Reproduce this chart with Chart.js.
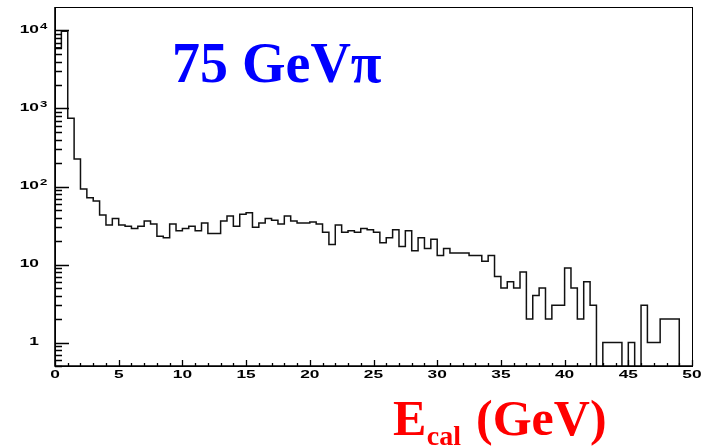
<!DOCTYPE html>
<html>
<head>
<meta charset="utf-8">
<script src="https://cdn.jsdelivr.net/npm/chart.js@4/dist/chart.umd.min.js"></script>
<style>
  html, body { margin: 0; padding: 0; background: #ffffff; }
  canvas { display: block; }
</style>
</head>
<body>
<canvas id="c" width="709" height="447"></canvas>
<script>
// Calorimeter energy spectrum, 100 bins of 0.5 GeV from 0 to 50 GeV
const binWidth = 0.5;
const counts = [
  6000, 9800, 750, 225, 93, 72, 65, 43, 32, 39,
  32, 31, 29, 31, 36, 33, 23, 22, 33, 27,
  29, 31, 27, 34, 25, 25, 36, 42, 31, 44,
  46, 30, 34, 39, 37, 33, 42, 36, 34, 34,
  35, 33, 26, 18, 32, 26, 27, 26, 29, 28,
  26, 19, 22, 28, 17, 27, 15, 22, 16, 21,
  13, 16, 14, 14, 14, 13, 13, 11, 13, 7,
  5, 6, 5, 8, 2, 4, 5, 2, 3, 3,
  9, 5, 2, 6, 3, 0, 1, 1, 1, 0,
  1, 0, 3, 1, 1, 2, 2, 2, 0, 0
];

// Axis labels
const xTickValues = [0, 5, 10, 15, 20, 25, 30, 35, 40, 45, 50];
const xTickLabels = ['0', '5', '10', '15', '20', '25', '30', '35', '40', '45', '50'];
const yTickValues = [1, 10, 100, 1000, 10000];
const yTickBases = ['1', '10', '10', '10', '10'];
const yTickExponents = ['', '', '2', '3', '4'];
const titleText = '75 GeV\u03C0';
const xTitleMain = 'E';
const xTitleSub = 'cal';
const xTitleRest = '(GeV)';

// Log axis range; empty bins are drawn down to below the frame floor and clipped there
const yMin = 0.5;
const yMax = 20000;
const emptyBinLevel = 0.1;

// Histogram outline: start on the axis, one point per bin low edge, close on the axis
const level = v => (v > 0 ? v : emptyBinLevel);
const points = [{ x: 0, y: emptyBinLevel }];
counts.forEach((v, i) => points.push({ x: i * binWidth, y: level(v) }));
points.push({ x: counts.length * binWidth, y: emptyBinLevel });

function stretchedText(ctx, text, x, y, sx, align) {
  ctx.save();
  ctx.translate(x, y);
  ctx.scale(sx, 1);
  ctx.textAlign = align;
  ctx.fillText(text, 0, 0);
  ctx.restore();
}

const labelFont = size => 'bold ' + size + 'px "Liberation Sans", Arial, sans-serif';
const serifFont = size => 'bold ' + size + 'px "Liberation Serif", "Times New Roman", serif';

const frameAndLabels = {
  id: 'frameAndLabels',
  afterDatasetsDraw(chart) {
    const ctx = chart.ctx;
    const a = chart.chartArea;
    const xs = chart.scales.x;
    const ys = chart.scales.y;
    ctx.save();
    ctx.strokeStyle = '#000';

    // frame
    ctx.lineWidth = 1;
    ctx.strokeRect(a.left + 0.5, a.top + 0.5, a.right - a.left, a.bottom - a.top);
    ctx.lineWidth = 1.6;
    ctx.beginPath();
    ctx.moveTo(a.left, a.top);
    ctx.lineTo(a.left, a.bottom);
    ctx.lineTo(a.right, a.bottom);
    ctx.stroke();

    // y ticks, pointing into the frame
    ctx.lineWidth = 1.3;
    ctx.beginPath();
    for (let d = -1; d <= 4; d++) {
      for (let k = 1; k <= 9; k++) {
        const v = k * Math.pow(10, d);
        if (v < ys.min || v >= ys.max) continue;
        const py = Math.round(ys.getPixelForValue(v)) + 0.5;
        const len = k === 1 ? 14 : 7;
        ctx.moveTo(a.left, py);
        ctx.lineTo(a.left + len, py);
      }
    }
    ctx.stroke();

    // x ticks, pointing into the frame
    ctx.beginPath();
    for (let v = 0; v <= 50; v++) {
      const px = Math.round(xs.getPixelForValue(v)) + 0.5;
      const len = v % 5 === 0 ? 6 : 3;
      ctx.moveTo(px, a.bottom);
      ctx.lineTo(px, a.bottom - len);
    }
    ctx.stroke();

    // tick labels
    ctx.fillStyle = '#000';
    ctx.textBaseline = 'middle';
    ctx.font = labelFont(10.5);
    xTickValues.forEach((v, i) => {
      stretchedText(ctx, xTickLabels[i], xs.getPixelForValue(v), a.bottom + 9.5, 1.65, 'center');
    });
    yTickValues.forEach((v, i) => {
      const py = ys.getPixelForValue(v);
      ctx.font = labelFont(10.5);
      stretchedText(ctx, yTickBases[i], 39, py, 1.65, 'right');
      if (yTickExponents[i]) {
        ctx.font = labelFont(8.5);
        stretchedText(ctx, yTickExponents[i], 40, py - 4, 1.55, 'left');
      }
    });

    // titles
    ctx.textBaseline = 'alphabetic';
    ctx.textAlign = 'left';
    ctx.fillStyle = '#0000ff';
    ctx.font = serifFont(56);
    ctx.fillText(titleText, 172, 82);

    ctx.fillStyle = '#ff0000';
    let x = 393;
    ctx.font = serifFont(50);
    ctx.fillText(xTitleMain, x, 435);
    x += ctx.measureText(xTitleMain).width + 0.5;
    ctx.font = serifFont(28);
    ctx.fillText(xTitleSub, x, 445);
    x += ctx.measureText(xTitleSub).width + 15;
    ctx.font = serifFont(50);
    ctx.fillText(xTitleRest, x, 435);

    ctx.restore();
  }
};

new Chart(document.getElementById('c'), {
  type: 'line',
  data: {
    datasets: [{
      data: points,
      stepped: true,
      borderColor: '#111111',
      borderWidth: 1.5,
      pointRadius: 0,
      fill: false,
      tension: 0
    }]
  },
  options: {
    responsive: false,
    animation: false,
    events: [],
    layout: { padding: { left: 55, right: 17, top: 7, bottom: 81 } },
    plugins: { legend: { display: false }, tooltip: { enabled: false }, title: { display: false } },
    scales: {
      x: { type: 'linear', min: 0, max: 50, display: false, bounds: 'data' },
      y: { type: 'logarithmic', min: yMin, max: yMax, display: false, bounds: 'data' }
    }
  },
  plugins: [frameAndLabels]
});
</script>
</body>
</html>
